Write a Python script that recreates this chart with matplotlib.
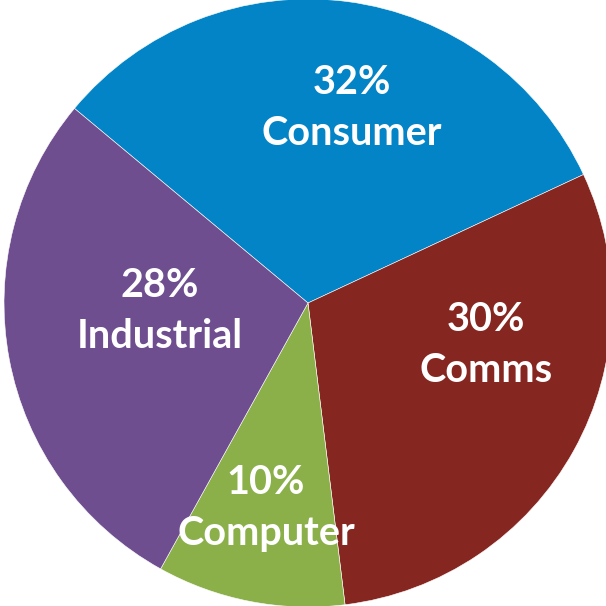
import matplotlib.pyplot as plt

sectors = ['Consumer', 'Comms', 'Computer', 'Industrial']
shares = [32, 30, 10, 28]
colors = ['#0284C7', '#862620', '#8BB04A', '#6E4E8F']

# label centres, in units of the pie radius (placed by hand like the original)
label_xy = [(0.145, 0.641), (0.586, -0.138), (-0.138, -0.674), (-0.487, -0.026)]

fig = plt.figure(figsize=(6.06, 6.06), dpi=100)
ax = fig.add_axes([0, 0, 1, 1])

wedges, _ = ax.pie(shares, colors=colors, startangle=140.2, counterclock=False,
                   radius=1.0, wedgeprops={'edgecolor': 'white', 'linewidth': 0.4})

for name, val, (x, y) in zip(sectors, shares, label_xy):
    ax.text(x, y, f'{val}%\n{name}', ha='center', va='center', color='white',
            fontsize=28.5, fontweight='bold', family='Lato', linespacing=1.47)

ax.set_xlim(-308 / 304, 298 / 304)
ax.set_ylim(-303 / 304, 303 / 304)
ax.set_aspect('auto')
ax.axis('off')

fig.savefig('out.png', dpi=100)
